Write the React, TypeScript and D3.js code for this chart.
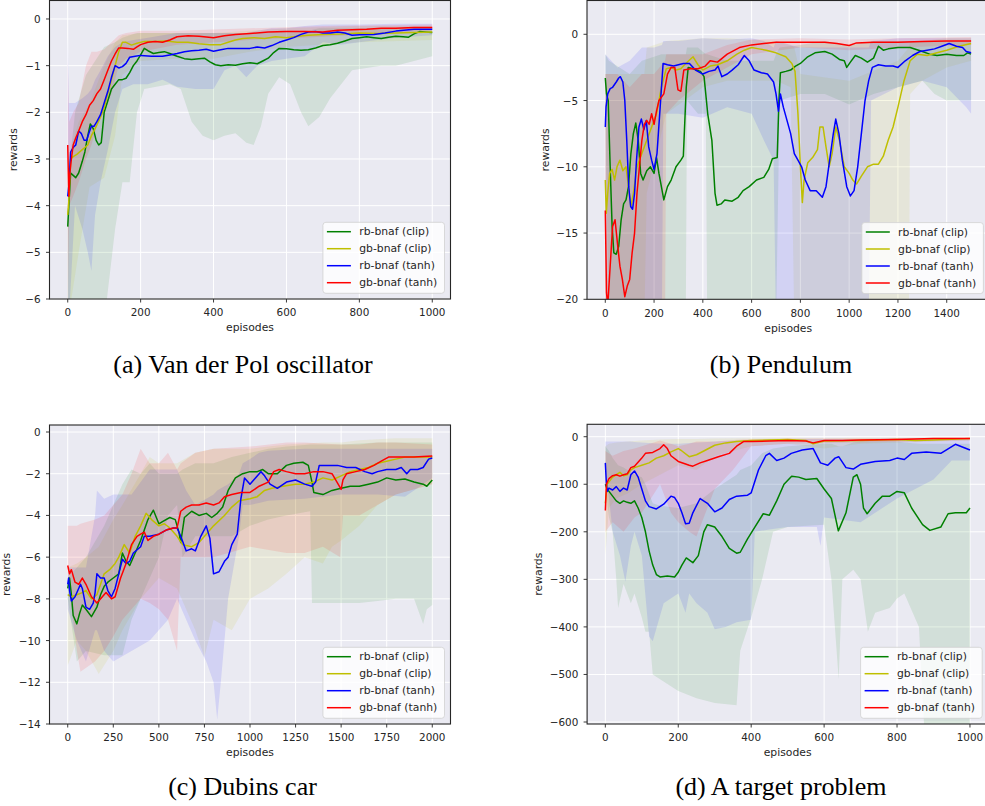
import React from "react";
import * as d3 from "d3";

type Pt = [number, number];
type Band = [number, number, number]; // episode, lower, upper

const seriesNames = ["rb-bnaf (clip)", "gb-bnaf (clip)", "rb-bnaf (tanh)", "gb-bnaf (tanh)"];
const seriesColors = ["#008000", "#bfbf00", "#0000ff", "#ff0000"];

// ---------- (a) Van der Pol oscillator ----------
const vdpRbClip: Pt[] = [[0,-4.45],[3,-4.0],[8,-3.3],[15,-3.35],[22,-3.4],[30,-3.3],[40,-3.05],[47,-2.85],[55,-2.5],[62,-2.25],[70,-2.35],[78,-2.6],[85,-2.7],[92,-2.65],[100,-2.0],[110,-1.75],[120,-1.5],[130,-1.4],[140,-1.3],[150,-1.3],[160,-1.27],[170,-1.15],[180,-1.0],[190,-0.9],[200,-0.77],[210,-0.63],[220,-0.68],[235,-0.74],[250,-0.72],[265,-0.7],[280,-0.74],[300,-0.8],[320,-0.85],[340,-0.87],[360,-0.85],[375,-0.84],[390,-0.92],[405,-0.98],[420,-1.0],[440,-0.98],[460,-0.99],[480,-0.96],[500,-0.94],[520,-0.96],[535,-0.9],[550,-0.84],[565,-0.72],[580,-0.63],[600,-0.64],[620,-0.66],[640,-0.67],[660,-0.66],[680,-0.62],[700,-0.57],[720,-0.55],[740,-0.52],[760,-0.47],[780,-0.42],[800,-0.4],[820,-0.38],[840,-0.4],[860,-0.42],[880,-0.39],[900,-0.37],[920,-0.38],[935,-0.39],[950,-0.32],[965,-0.27],[980,-0.28],[1000,-0.29]];
const vdpGbClip: Pt[] = [[0,-4.2],[3,-3.9],[8,-3.0],[15,-2.95],[25,-2.9],[40,-2.8],[55,-2.7],[65,-2.5],[75,-2.35],[90,-2.1],[100,-1.9],[110,-1.6],[120,-1.3],[130,-1.0],[140,-0.7],[150,-0.5],[160,-0.5],[175,-0.56],[190,-0.52],[210,-0.48],[240,-0.48],[270,-0.47],[300,-0.5],[330,-0.5],[360,-0.53],[390,-0.55],[420,-0.55],[440,-0.5],[460,-0.45],[480,-0.42],[510,-0.4],[540,-0.42],[570,-0.38],[600,-0.4],[630,-0.37],[660,-0.35],[700,-0.33],[750,-0.32],[800,-0.3],[850,-0.31],[900,-0.3],[950,-0.29],[1000,-0.28]];
const vdpRbTanh: Pt[] = [[0,-3.8],[4,-3.5],[8,-2.85],[15,-2.75],[22,-2.7],[30,-2.4],[37,-2.45],[45,-2.6],[52,-2.6],[58,-2.45],[65,-2.3],[72,-2.3],[80,-2.2],[90,-2.05],[100,-1.8],[110,-1.55],[120,-1.25],[130,-1.0],[140,-1.05],[150,-1.02],[160,-0.95],[170,-0.82],[185,-0.8],[200,-0.78],[230,-0.8],[260,-0.8],[280,-0.77],[300,-0.74],[320,-0.7],[340,-0.68],[360,-0.67],[380,-0.65],[400,-0.69],[420,-0.66],[440,-0.63],[470,-0.63],[500,-0.63],[520,-0.6],[540,-0.62],[560,-0.57],[580,-0.5],[600,-0.45],[620,-0.4],[640,-0.33],[660,-0.28],[680,-0.27],[700,-0.3],[720,-0.3],[740,-0.28],[760,-0.3],[780,-0.35],[800,-0.34],[840,-0.33],[870,-0.3],[900,-0.26],[950,-0.22],[1000,-0.22]];
const vdpGbTanh: Pt[] = [[0,-2.7],[3,-3.8],[6,-3.3],[10,-3.0],[15,-2.7],[22,-2.55],[30,-2.4],[40,-2.2],[50,-2.05],[60,-1.85],[70,-1.75],[80,-1.6],[90,-1.5],[100,-1.3],[110,-1.1],[120,-0.9],[130,-0.75],[140,-0.62],[150,-0.62],[165,-0.63],[180,-0.65],[190,-0.6],[200,-0.55],[220,-0.5],[240,-0.48],[260,-0.5],[280,-0.45],[300,-0.38],[330,-0.36],[360,-0.37],[400,-0.4],[430,-0.36],[460,-0.33],[500,-0.31],[550,-0.28],[600,-0.27],[650,-0.27],[700,-0.28],[740,-0.24],[780,-0.23],[820,-0.22],[860,-0.2],[900,-0.2],[950,-0.18],[1000,-0.18]];
const vdpRbClipBand: Band[] = [[0,-6.5,-3.5],[20,-6.5,-2.0],[50,-6.5,-1.2],[100,-6.5,-0.6],[130,-4.5,-0.5],[150,-3.5,-0.4],[170,-3.5,-0.35],[190,-2.0,-0.3],[210,-1.5,-0.3],[280,-1.4,-0.3],[310,-1.5,-0.3],[340,-2.2,-0.3],[370,-2.5,-0.3],[400,-2.6,-0.3],[430,-2.5,-0.3],[460,-2.45,-0.3],[490,-2.65,-0.3],[510,-2.7,-0.3],[530,-2.3,-0.3],[550,-1.6,-0.3],[580,-1.25,-0.25],[610,-1.4,-0.25],[640,-2.0,-0.25],[660,-2.3,-0.25],[690,-2.1,-0.2],[720,-1.7,-0.2],[750,-1.4,-0.2],[780,-1.1,-0.2],[820,-1.05,-0.2],[860,-1.0,-0.2],[900,-1.0,-0.2],[950,-0.9,-0.2],[1000,-0.8,-0.2]];
const vdpGbClipBand: Band[] = [[0,-6.5,-3.0],[30,-5.0,-2.2],[60,-3.6,-1.8],[100,-3.4,-1.0],[130,-2.5,-0.5],[150,-1.2,-0.35],[200,-0.9,-0.3],[300,-0.85,-0.3],[400,-0.85,-0.3],[500,-0.7,-0.25],[600,-0.6,-0.2],[800,-0.5,-0.15],[1000,-0.45,-0.15]];
const vdpRbTanhBand: Band[] = [[0,-6.5,-0.3],[3,-6.5,-1.8],[20,-4.0,-1.8],[40,-4.5,-1.7],[55,-5.0,-1.6],[65,-5.4,-1.5],[75,-4.2,-1.3],[90,-3.5,-1.1],[110,-2.8,-0.8],[130,-2.0,-0.6],[150,-1.5,-0.5],[180,-1.4,-0.45],[220,-1.4,-0.4],[260,-1.3,-0.35],[300,-1.45,-0.3],[350,-1.5,-0.3],[400,-1.5,-0.3],[430,-1.1,-0.3],[460,-1.0,-0.3],[490,-1.25,-0.3],[520,-1.0,-0.25],[560,-0.9,-0.2],[600,-0.85,-0.2],[650,-0.8,-0.15],[700,-0.5,-0.12],[750,-0.55,-0.12],[800,-0.5,-0.12],[900,-0.4,-0.1],[1000,-0.35,-0.1]];
const vdpGbTanhBand: Band[] = [[0,-6.5,-0.8],[4,-4.0,-2.2],[15,-3.8,-2.0],[30,-3.5,-1.8],[50,-3.0,-1.0],[65,-2.7,-0.7],[80,-2.3,-0.7],[100,-2.0,-0.65],[120,-1.6,-0.5],[140,-1.0,-0.35],[160,-0.85,-0.3],[200,-0.7,-0.25],[300,-0.55,-0.25],[500,-0.45,-0.2],[700,-0.38,-0.15],[1000,-0.25,-0.12]];

// ---------- (b) Pendulum ----------
const pendRbClip: Pt[] = [[0,-3.3],[5,-4.5],[12,-5.0],[20,-10.0],[28,-14.5],[35,-16.5],[45,-16.6],[55,-16.0],[65,-14.0],[75,-12.8],[85,-12.5],[95,-11.5],[105,-9.0],[115,-7.5],[125,-6.7],[135,-8.0],[145,-10.5],[155,-11.0],[170,-10.3],[185,-10.0],[200,-10.5],[210,-9.3],[220,-10.5],[230,-11.5],[240,-12.5],[255,-11.5],[270,-11.0],[290,-10.0],[310,-9.5],[320,-9.2],[332,-4.0],[340,-2.5],[360,-2.6],[390,-2.8],[405,-3.2],[420,-6.0],[437,-8.0],[450,-12.0],[458,-12.9],[475,-12.8],[490,-12.5],[520,-12.6],[545,-12.3],[565,-11.8],[590,-11.5],[620,-11.0],[650,-10.8],[670,-10.2],[685,-9.4],[705,-9.3],[712,-5.0],[718,-2.9],[740,-2.8],[760,-2.7],[780,-2.4],[800,-2.2],[830,-1.7],[860,-1.4],[900,-1.3],[930,-1.5],[960,-1.9],[980,-2.0],[990,-2.5],[1005,-2.1],[1025,-1.6],[1050,-1.8],[1075,-2.1],[1100,-1.8],[1120,-0.9],[1140,-1.2],[1160,-1.1],[1200,-1.0],[1250,-1.0],[1300,-1.3],[1330,-1.5],[1360,-1.6],[1400,-1.5],[1440,-1.6],[1470,-1.6],[1485,-1.4],[1500,-1.5]];
const pendGbClip: Pt[] = [[0,-11.0],[4,-13.5],[10,-12.0],[18,-10.5],[28,-10.2],[38,-11.0],[48,-10.0],[60,-9.5],[72,-10.3],[85,-10.0],[95,-11.5],[105,-13.0],[115,-12.0],[130,-10.0],[150,-9.0],[170,-8.0],[190,-7.0],[210,-6.0],[230,-4.0],[250,-2.6],[270,-2.5],[290,-2.7],[310,-2.6],[330,-2.2],[360,-1.7],[380,-2.3],[400,-2.7],[430,-2.4],[460,-2.3],[500,-2.0],[540,-1.5],[570,-1.2],[600,-1.0],[630,-1.1],[660,-1.2],[700,-1.4],[740,-1.7],[765,-2.2],[778,-2.8],[790,-6.0],[800,-10.0],[808,-12.7],[815,-11.0],[830,-9.7],[850,-9.3],[870,-8.7],[880,-7.0],[893,-7.0],[905,-8.5],[918,-10.0],[930,-9.0],[945,-7.0],[960,-8.0],[980,-10.0],[1000,-10.5],[1015,-11.0],[1030,-11.3],[1050,-10.7],[1075,-10.0],[1100,-9.8],[1120,-9.8],[1140,-9.2],[1160,-8.0],[1180,-7.0],[1200,-5.5],[1225,-3.5],[1250,-2.0],[1280,-1.5],[1320,-1.6],[1360,-1.4],[1400,-1.2],[1450,-0.9],[1500,-0.7]];
const pendRbTanh: Pt[] = [[0,-7.0],[3,-5.5],[10,-4.5],[20,-4.1],[30,-4.0],[45,-3.6],[55,-3.3],[62,-3.2],[72,-3.6],[80,-5.0],[88,-8.0],[96,-11.5],[104,-13.0],[112,-13.2],[120,-12.0],[128,-9.5],[138,-7.0],[148,-6.4],[158,-7.2],[168,-6.5],[178,-8.5],[190,-9.5],[200,-10.2],[212,-9.0],[225,-5.5],[237,-2.2],[255,-2.3],[280,-2.4],[300,-2.3],[320,-2.2],[345,-2.2],[370,-2.7],[400,-3.0],[425,-2.8],[450,-2.7],[462,-2.4],[478,-3.2],[500,-3.0],[520,-2.7],[545,-2.3],[570,-1.6],[590,-2.0],[610,-2.7],[640,-2.9],[665,-3.0],[690,-3.6],[700,-4.5],[710,-5.8],[718,-4.5],[730,-5.5],[745,-6.5],[760,-7.5],[775,-9.0],[790,-9.5],[805,-10.0],[820,-11.0],[840,-11.8],[865,-11.8],[890,-12.3],[905,-11.5],[920,-9.5],[935,-7.5],[945,-6.4],[958,-7.5],[972,-9.5],[990,-11.5],[1005,-12.2],[1020,-11.8],[1035,-10.0],[1050,-7.5],[1065,-5.0],[1080,-3.5],[1095,-2.5],[1120,-2.3],[1150,-2.4],[1180,-2.4],[1200,-2.5],[1230,-2.0],[1260,-1.6],[1290,-1.3],[1320,-1.2],[1350,-1.1],[1380,-0.9],[1410,-0.7],[1440,-0.9],[1465,-1.0],[1480,-1.3],[1500,-1.4]];
const pendGbTanh: Pt[] = [[0,-13.3],[5,-19.5],[10,-20.5],[20,-17.5],[30,-14.5],[40,-14.0],[50,-15.8],[60,-17.5],[70,-18.5],[80,-19.8],[90,-19.0],[100,-18.5],[110,-16.5],[120,-15.0],[130,-12.0],[140,-10.0],[150,-8.0],[160,-6.8],[170,-6.5],[180,-6.8],[190,-6.0],[200,-6.8],[210,-5.8],[220,-5.0],[240,-4.5],[255,-3.0],[270,-2.5],[285,-2.5],[298,-4.2],[310,-4.3],[322,-2.7],[350,-2.6],[380,-2.6],[410,-2.4],[430,-2.0],[460,-2.1],[500,-1.5],[550,-1.0],[600,-0.8],[650,-0.7],[700,-0.6],[800,-0.6],[900,-0.6],[950,-0.7],[1000,-0.85],[1030,-0.65],[1100,-0.6],[1200,-0.6],[1300,-0.55],[1400,-0.5],[1500,-0.5]];
const pendRbClipBand: Band[] = [[0,-6,-1.5],[15,-22,-2],[100,-22,-3],[150,-22,-2],[230,-22,-1.5],[330,-22,-1.5],[335,-5,-1],[380,-6,-1],[412,-6,-1.5],[418,-22,-1.5],[500,-22,-2],[600,-22,-2],[690,-22,-2],[700,-22,-1.5],[715,-5,-1],[800,-4.5,-0.8],[900,-4.5,-0.5],[1000,-5.3,-0.8],[1100,-4.5,-0.5],[1200,-4,-0.5],[1300,-3.5,-0.5],[1350,-4.5,-0.5],[1400,-5,-0.5],[1500,-5,-0.5]];
const pendGbClipBand: Band[] = [[0,-22,-3],[100,-22,-3],[160,-22,-3],[170,-12,-1],[250,-6,-0.5],[400,-4,-0.3],[500,-3.5,-0.3],[700,-3.5,-0.5],[760,-4,-0.8],[775,-22,-1],[800,-22,-3],[1000,-22,-3.5],[1200,-22,-2],[1245,-22,-1],[1250,-4.5,-0.5],[1300,-3.5,-0.5],[1400,-2.5,-0.3],[1500,-2,-0.3]];
const pendRbTanhBand: Band[] = [[0,-22,-1.5],[50,-22,-2.5],[100,-22,-2],[150,-22,-1],[200,-22,-1],[232,-22,-0.8],[238,-6,-0.5],[300,-6,-0.5],[400,-6.3,-0.3],[500,-5.5,-0.4],[600,-6,-0.3],[650,-8,-0.5],[690,-9.5,-1],[700,-22,-0.5],[800,-22,-1],[900,-22,-1],[1000,-22,-1],[1080,-22,-1],[1090,-5,-0.5],[1200,-4,-0.3],[1300,-3.5,-0.3],[1400,-4,-0.3],[1480,-5.5,-0.3],[1500,-6,-0.3]];
const pendGbTanhBand: Band[] = [[0,-22,-3],[50,-22,-3],[100,-22,-4],[150,-22,-3],[200,-22,-3],[245,-22,-2],[250,-6,-1.5],[300,-5,-1.5],[400,-3.5,-1.5],[500,-2.5,-0.8],[600,-1.5,-0.4],[800,-1,-0.3],[1000,-1.2,-0.4],[1200,-1,-0.3],[1500,-0.8,-0.2]];

// ---------- (c) Dubins car ----------
const dubRbClip: Pt[] = [[0,-7.5],[10,-7.0],[20,-7.8],[30,-8.8],[50,-9.2],[65,-8.7],[80,-8.3],[100,-8.5],[130,-8.85],[160,-8.4],[180,-7.8],[200,-7.4],[220,-7.2],[250,-7.0],[280,-6.8],[300,-5.8],[320,-6.2],[340,-6.4],[370,-5.8],[400,-5.2],[440,-4.2],[470,-3.75],[500,-4.4],[520,-4.3],[560,-4.1],[590,-4.2],[610,-4.8],[620,-5.3],[640,-4.1],[680,-3.8],[720,-4.0],[760,-3.9],[790,-4.1],[820,-3.9],[850,-3.6],[880,-2.8],[920,-2.2],[960,-2.0],[1000,-1.9],[1040,-1.9],[1070,-1.8],[1100,-2.0],[1150,-2.0],[1200,-1.6],[1240,-1.5],[1290,-1.45],[1320,-1.6],[1340,-2.4],[1350,-2.9],[1400,-3.0],[1450,-2.8],[1500,-2.7],[1550,-2.6],[1600,-2.6],[1650,-2.5],[1700,-2.4],[1750,-2.2],[1800,-2.3],[1850,-2.25],[1900,-2.4],[1950,-2.5],[1970,-2.6],[2000,-2.3]];
const dubGbClip: Pt[] = [[0,-7.8],[20,-7.9],[50,-7.8],[80,-7.7],[100,-7.6],[130,-8.0],[160,-7.8],[180,-7.3],[200,-6.8],[230,-6.6],[260,-6.3],[280,-6.0],[310,-5.4],[340,-5.8],[370,-5.0],[400,-4.5],[430,-3.9],[460,-4.2],[500,-4.5],[530,-4.4],[560,-4.6],[600,-5.0],[630,-5.4],[680,-5.5],[720,-5.3],[760,-4.9],[800,-4.5],[860,-4.0],[900,-3.6],[940,-3.3],[1000,-3.2],[1040,-3.1],[1080,-2.8],[1120,-2.7],[1180,-2.6],[1250,-2.5],[1300,-2.5],[1350,-2.4],[1400,-2.2],[1450,-2.3],[1500,-2.1],[1550,-1.9],[1600,-1.8],[1650,-1.7],[1700,-1.5],[1750,-1.4],[1800,-1.3],[1850,-1.2],[1900,-1.2],[2000,-1.2]];
const dubRbTanh: Pt[] = [[0,-7.3],[5,-7.0],[10,-7.6],[20,-8.1],[40,-7.9],[60,-7.5],[70,-7.3],[80,-7.5],[100,-8.4],[120,-8.5],[140,-8.2],[150,-7.7],[160,-6.8],[180,-7.0],[200,-7.0],[220,-7.6],[240,-7.9],[260,-7.5],[280,-6.8],[300,-6.1],[320,-6.3],[340,-6.2],[360,-5.8],[400,-5.5],[420,-5.0],[450,-5.0],[500,-4.9],[540,-4.7],[580,-4.6],[600,-4.6],[620,-5.0],[650,-5.7],[680,-5.6],[700,-5.7],[730,-5.0],[760,-4.5],[780,-5.1],[800,-6.8],[830,-6.7],[860,-6.2],[880,-6.0],[900,-5.4],[930,-4.9],[950,-3.2],[970,-2.2],[1000,-2.5],[1030,-2.2],[1060,-1.9],[1080,-2.1],[1110,-2.5],[1150,-2.7],[1200,-2.4],[1250,-2.3],[1300,-2.5],[1340,-2.6],[1360,-2.4],[1380,-1.6],[1420,-1.6],[1480,-1.6],[1530,-1.7],[1580,-1.7],[1630,-1.9],[1670,-2.0],[1700,-1.9],[1750,-1.8],[1800,-1.8],[1830,-1.7],[1860,-2.0],[1880,-1.8],[1920,-1.8],[1950,-1.7],[1980,-1.3],[2000,-1.25]];
const dubGbTanh: Pt[] = [[0,-6.4],[10,-6.8],[20,-6.6],[40,-7.2],[60,-7.3],[80,-7.0],[100,-7.3],[130,-7.9],[160,-8.2],[190,-7.9],[210,-7.7],[240,-8.0],[260,-7.9],[290,-7.0],[320,-6.3],[350,-5.4],[380,-5.0],[400,-4.9],[420,-4.8],[440,-5.2],[470,-5.0],[500,-4.9],[540,-4.7],[580,-4.6],[600,-4.6],[620,-3.8],[650,-3.6],[680,-3.5],[720,-3.5],[760,-3.4],[800,-3.5],[830,-3.4],[860,-3.1],[900,-3.0],[950,-2.9],[1000,-2.9],[1050,-2.6],[1100,-2.4],[1130,-1.9],[1160,-1.8],[1200,-1.9],[1250,-2.0],[1300,-2.0],[1350,-1.9],[1400,-1.9],[1450,-2.0],[1490,-2.6],[1500,-2.75],[1510,-2.3],[1530,-2.0],[1580,-1.9],[1630,-1.8],[1680,-1.6],[1720,-1.4],[1760,-1.2],[1800,-1.2],[1850,-1.2],[1900,-1.2],[2000,-1.15]];
const dubRbClipBand: Band[] = [[0,-8,-7],[50,-11,-6.5],[100,-10.5,-6],[200,-10.7,-4.5],[250,-10.7,-3.5],[300,-10.7,-2.5],[350,-9,-1.8],[400,-8,-2],[450,-7,-1.5],[500,-6,-2],[550,-4,-2],[600,-3.5,-2],[630,-6,-1.8],[700,-5,-1.5],[800,-5,-1.5],[900,-5,-1.2],[1000,-4.5,-1.0],[1100,-4.2,-0.8],[1200,-4,-0.7],[1330,-3.8,-0.6],[1340,-8.2,-0.6],[1500,-8.2,-0.6],[1600,-8.2,-0.55],[1700,-8.1,-0.5],[1800,-8,-0.5],[1900,-8,-0.5],[1950,-9.2,-0.5],[1970,-8.5,-0.5],[2000,-8.3,-0.5]];
const dubGbClipBand: Band[] = [[0,-11.2,-6.5],[50,-10,-6.3],[100,-10.5,-6],[170,-11.6,-5.5],[250,-10.5,-4.2],[300,-9.5,-3.5],[400,-8,-2],[450,-7.5,-1.2],[500,-7,-1.5],[600,-7.5,-1.5],[700,-9.5,-1.0],[750,-10.8,-0.9],[800,-9,-0.8],[900,-9.5,-0.8],[1000,-8,-0.8],[1100,-7.5,-0.7],[1200,-6.8,-0.6],[1300,-6,-0.55],[1400,-6.3,-0.5],[1450,-5.5,-0.5],[1500,-5.2,-0.5],[1600,-4.5,-0.4],[1700,-3.5,-0.35],[1800,-3.0,-0.3],[2000,-2.5,-0.3]];
const dubRbTanhBand: Band[] = [[0,-8.5,-6.5],[50,-10,-6.5],[100,-11,-6.5],[150,-9.5,-4],[160,-9.5,-2.8],[200,-10.5,-3.2],[250,-11,-3],[350,-10.5,-3],[450,-10,-1.8],[550,-9,-1.8],[600,-8,-1.8],[650,-9,-2.8],[700,-10,-3.5],[760,-11,-3.2],[800,-12,-3.0],[820,-13.8,-2.8],[840,-12,-2.7],[880,-8,-2.5],[940,-5,-2],[960,-3.5,-1.5],[1000,-3.5,-1.3],[1050,-3.4,-1.0],[1100,-3.3,-0.9],[1300,-3.2,-0.8],[1500,-3.0,-0.8],[1700,-3.0,-0.8],[1850,-3.1,-0.8],[1900,-2.8,-0.8],[2000,-2.2,-0.8]];
const dubGbTanhBand: Band[] = [[0,-7,-4.5],[50,-10.5,-4.5],[70,-11.5,-4.4],[150,-11,-4.2],[200,-10.5,-4.0],[250,-9.8,-3.5],[300,-9,-3],[350,-8.5,-2],[400,-8,-0.8],[450,-8.2,-1.5],[500,-8.5,-1.5],[550,-9,-1.0],[600,-10.5,-1.8],[620,-6,-1.5],[700,-6,-1.0],[800,-6,-0.8],[1000,-5.5,-0.7],[1200,-5.8,-0.5],[1300,-5.8,-0.5],[1400,-5.5,-0.55],[1495,-6,-0.6],[1510,-4,-0.6],[1600,-4,-0.6],[1700,-3.5,-0.5],[1800,-3.0,-0.5],[2000,-2.5,-0.6]];

// ---------- (d) A target problem ----------
const tgtRbClip: Pt[] = [[0,-100],[5,-110],[10,-115],[20,-125],[30,-135],[40,-140],[50,-135],[60,-138],[70,-140],[80,-135],[90,-150],[100,-170],[110,-200],[120,-240],[130,-270],[140,-290],[150,-295],[170,-293],[190,-295],[200,-285],[210,-270],[222,-255],[240,-265],[255,-250],[270,-200],[280,-185],[300,-190],[320,-210],[340,-235],[360,-245],[370,-243],[390,-215],[410,-190],[433,-162],[450,-165],[470,-135],[490,-100],[511,-83],[530,-85],[550,-90],[580,-88],[600,-110],[620,-130],[639,-198],[660,-160],[680,-85],[690,-80],[700,-100],[708,-150],[718,-162],[740,-140],[760,-125],[780,-125],[800,-115],[820,-118],[840,-150],[870,-185],[890,-197],[920,-190],[940,-162],[960,-160],[990,-160],[1000,-150]];
const tgtGbClip: Pt[] = [[0,-140],[5,-100],[10,-95],[20,-85],[30,-80],[40,-75],[50,-82],[60,-80],[70,-70],[80,-65],[100,-60],[120,-55],[140,-45],[160,-40],[180,-32],[200,-25],[210,-30],[230,-42],[250,-38],[270,-30],[300,-18],[330,-13],[360,-10],[400,-8],[450,-7],[500,-6],[550,-8],[570,-15],[600,-9],[700,-8],[800,-6],[850,-8],[900,-7],[1000,-4]];
const tgtRbTanh: Pt[] = [[0,-55],[3,-100],[5,-115],[10,-108],[20,-112],[30,-105],[40,-115],[50,-108],[60,-112],[70,-80],[80,-72],[90,-85],[100,-110],[110,-135],[120,-147],[140,-152],[160,-142],[180,-125],[190,-128],[200,-140],[210,-160],[220,-183],[230,-182],[240,-160],[260,-130],[280,-140],[300,-158],[320,-150],[340,-132],[360,-125],[390,-123],[400,-118],[420,-70],[440,-40],[450,-35],[470,-50],[490,-45],[510,-35],[540,-28],[570,-25],[590,-55],[610,-60],[630,-45],[640,-42],[660,-65],[680,-68],[700,-58],[740,-52],[780,-50],[800,-45],[820,-48],[840,-35],[880,-32],[920,-35],[960,-16],[1000,-28]];
const tgtGbTanh: Pt[] = [[0,-155],[3,-100],[10,-88],[20,-82],[30,-80],[40,-83],[50,-80],[60,-78],[70,-65],[80,-62],[100,-45],[110,-35],[130,-33],[150,-25],[160,-17],[170,-25],[180,-40],[200,-52],[230,-60],[240,-62],[260,-55],[280,-50],[310,-42],[340,-35],[360,-20],[380,-10],[400,-10],[450,-9],[500,-8],[550,-9],[570,-13],[600,-8],[650,-8],[700,-7],[800,-6],[900,-4],[1000,-4]];
const tgtRbClipBand: Band[] = [[0,-100,-20],[10,-170,-30],[20,-200,-45],[30,-300,-55],[35,-360,-60],[50,-310,-65],[70,-350,-75],[80,-330,-80],[100,-380,-85],[110,-410,-100],[120,-410,-120],[130,-500,-140],[150,-510,-145],[200,-535,-150],[250,-550,-140],[300,-560,-110],[360,-565,-80],[370,-450,-70],[400,-380,-60],[430,-300,-35],[460,-200,-25],[500,-190,-20],[600,-185,-15],[620,-300,-15],[640,-510,-20],[650,-300,-20],[680,-280,-12],[700,-300,-10],[720,-410,-10],[740,-370,-10],[780,-360,-10],[800,-340,-10],[820,-330,-12],[860,-400,-15],[875,-620,-15],[1000,-620,-15]];
const tgtGbClipBand: Band[] = [[0,-250,-20],[10,-150,-15],[30,-130,-12],[60,-120,-10],[100,-100,-8],[150,-80,-6],[200,-60,-5],[250,-70,-5],[300,-40,-4],[400,-20,-3],[500,-15,-3],[600,-25,-3],[700,-15,-2],[1000,-8,-2]];
const tgtRbTanhBand: Band[] = [[0,-60,-10],[20,-200,-10],[40,-250,-10],[55,-305,-10],[70,-230,-10],[80,-200,-11],[100,-250,-12],[120,-420,-13],[130,-430,-14],[160,-350,-15],[200,-330,-15],[220,-370,-14],[230,-330,-13],[250,-350,-12],[280,-370,-11],[300,-405,-10],[330,-400,-9],[360,-390,-8],[400,-385,-8],[410,-200,-7],[450,-195,-6],[500,-190,-5],[580,-190,-5],[590,-230,-5],[600,-170,-5],[700,-180,-5],[800,-130,-4],[900,-90,-4],[950,-50,-3],[1000,-50,-3]];
const tgtGbTanhBand: Band[] = [[0,-200,-30],[20,-180,-40],[50,-200,-30],[80,-170,-25],[100,-160,-20],[150,-100,-8],[180,-160,-15],[200,-180,-20],[230,-200,-15],[250,-210,-10],[280,-150,-10],[300,-110,-10],[350,-70,-7],[400,-20,-5],[500,-15,-4],[1000,-8,-2]];

// tick values
const vdpXTicks = [0, 200, 400, 600, 800, 1000];
const vdpYTicks = [0, -1, -2, -3, -4, -5, -6];
const pendXTicks = [0, 200, 400, 600, 800, 1000, 1200, 1400];
const pendYTicks = [0, -5, -10, -15, -20];
const dubXTicks = [0, 250, 500, 750, 1000, 1250, 1500, 1750, 2000];
const dubYTicks = [0, -2, -4, -6, -8, -10, -12, -14];
const tgtXTicks = [0, 200, 400, 600, 800, 1000];
const tgtYTicks = [0, -100, -200, -300, -400, -500, -600];

interface PanelSpec {
  id: string;
  left: number; right: number; top: number; bottom: number;
  xDomain: [number, number];
  yDomain: [number, number];
  xTicks: number[]; yTicks: number[];
  lines: Pt[][]; bands: Band[][];
  caption: string; capX: number; capY: number;
  yLabelX: number;
}

const panels: PanelSpec[] = [
  {
    id: "a", left: 49.5, right: 450.5, top: 0.5, bottom: 299,
    xDomain: [-50, 1050], yDomain: [-6, 0.396],
    xTicks: vdpXTicks, yTicks: vdpYTicks,
    lines: [vdpRbClip, vdpGbClip, vdpRbTanh, vdpGbTanh],
    bands: [vdpRbClipBand, vdpGbClipBand, vdpRbTanhBand, vdpGbTanhBand],
    caption: "(a) Van der Pol oscillator", capX: 243, capY: 372.5, yLabelX: 13.3,
  },
  {
    id: "b", left: 587, right: 989.4, top: 0.5, bottom: 299.3,
    xDomain: [-75, 1575], yDomain: [-20, 2.55],
    xTicks: pendXTicks, yTicks: pendYTicks,
    lines: [pendRbClip, pendGbClip, pendRbTanh, pendGbTanh],
    bands: [pendRbClipBand, pendGbClipBand, pendRbTanhBand, pendGbTanhBand],
    caption: "(b) Pendulum", capX: 781, capY: 372.5, yLabelX: 545.3,
  },
  {
    id: "c", left: 49.5, right: 450.5, top: 425, bottom: 724,
    xDomain: [-100, 2100], yDomain: [-14, 0.336],
    xTicks: dubXTicks, yTicks: dubYTicks,
    lines: [dubRbClip, dubGbClip, dubRbTanh, dubGbTanh],
    bands: [dubRbClipBand, dubGbClipBand, dubRbTanhBand, dubGbTanhBand],
    caption: "(c) Dubins car", capX: 242.5, capY: 795, yLabelX: 6.9,
  },
  {
    id: "d", left: 587.1, right: 988.2, top: 424.3, bottom: 724,
    xDomain: [-50, 1050], yDomain: [-604.2, 26.1],
    xTicks: tgtXTicks, yTicks: tgtYTicks,
    lines: [tgtRbClip, tgtGbClip, tgtRbTanh, tgtGbTanh],
    bands: [tgtRbClipBand, tgtGbClipBand, tgtRbTanhBand, tgtGbTanhBand],
    caption: "(d) A target problem", capX: 781, capY: 794.5, yLabelX: 538.4,
  },
];

const FONT = "'DejaVu Sans', sans-serif";
const fmt = (v: number) => (v < 0 ? "\u2212" + Math.abs(v) : String(v));

const Panel = ({ p }: { p: PanelSpec }) => {
  const x = d3.scaleLinear().domain(p.xDomain).range([p.left, p.right]);
  const y = d3.scaleLinear().domain(p.yDomain).range([p.bottom, p.top]);
  const line = d3.line<Pt>().x((d) => x(d[0])).y((d) => y(d[1]));
  const area = d3
    .area<Band>()
    .x((d) => x(d[0]))
    .y0((d) => y(d[1]))
    .y1((d) => y(d[2]));

  const lgW = 121.6;
  const lgH = 71;
  const lgX = p.right - 6 - lgW;
  const lgY = p.bottom - 5.7 - lgH;

  return (
    <g>
      <defs>
        <clipPath id={"clip-" + p.id}>
          <rect x={p.left} y={p.top} width={p.right - p.left} height={p.bottom - p.top} />
        </clipPath>
      </defs>
      <rect x={p.left} y={p.top} width={p.right - p.left} height={p.bottom - p.top} fill="#eaeaf2" />
      {/* grid */}
      {p.xTicks.map((t) => (
        <line key={"gx" + t} x1={x(t)} x2={x(t)} y1={p.top} y2={p.bottom} stroke="#fff" strokeWidth={1} />
      ))}
      {p.yTicks.map((t) => (
        <line key={"gy" + t} x1={p.left} x2={p.right} y1={y(t)} y2={y(t)} stroke="#fff" strokeWidth={1} />
      ))}
      <g clipPath={`url(#clip-${p.id})`}>
        {p.bands.map((b, i) => (
          <path key={"b" + i} d={area(b) || ""} fill={seriesColors[i]} fillOpacity={0.1} stroke="none" />
        ))}
        {p.lines.map((l, i) => (
          <path key={"l" + i} d={line(l) || ""} fill="none" stroke={seriesColors[i]} strokeWidth={1.5} strokeLinejoin="round" />
        ))}
      </g>
      {/* spines */}
      <rect x={p.left} y={p.top} width={p.right - p.left} height={p.bottom - p.top} fill="none" stroke="#262626" strokeWidth={1.1} />
      {/* x ticks */}
      {p.xTicks.map((t) => (
        <g key={"tx" + t}>
          <line x1={x(t)} x2={x(t)} y1={p.bottom} y2={p.bottom + 3.5} stroke="#262626" strokeWidth={0.9} />
          <text x={x(t)} y={p.bottom + 13.3} textAnchor="middle" dominantBaseline="central" fontFamily={FONT} fontSize={10.4} fill="#262626">
            {fmt(t)}
          </text>
        </g>
      ))}
      {/* y ticks */}
      {p.yTicks.map((t) => (
        <g key={"ty" + t}>
          <line x1={p.left - 3.5} x2={p.left} y1={y(t)} y2={y(t)} stroke="#262626" strokeWidth={0.9} />
          <text x={p.left - 8.8} y={y(t)} textAnchor="end" dominantBaseline="central" fontFamily={FONT} fontSize={10.4} fill="#262626">
            {fmt(t)}
          </text>
        </g>
      ))}
      <text x={(x(p.xDomain[0]) + x(p.xDomain[1])) / 2} y={p.bottom + 28.7} textAnchor="middle" dominantBaseline="central" fontFamily={FONT} fontSize={10.8} fill="#262626">
        episodes
      </text>
      <text transform={`translate(${p.yLabelX},${(p.top + p.bottom) / 2}) rotate(-90)`} textAnchor="middle" dominantBaseline="central" fontFamily={FONT} fontSize={10.8} fill="#262626">
        rewards
      </text>
      {/* legend */}
      <rect x={lgX} y={lgY} width={lgW} height={lgH} rx={3} fill="#fff" fillOpacity={0.8} stroke="#d0d0d0" strokeWidth={0.8} />
      {seriesNames.map((name, i) => {
        const ry = lgY + 9.4 + i * 17;
        return (
          <g key={name}>
            <line x1={lgX + 4} x2={lgX + 28} y1={ry} y2={ry} stroke={seriesColors[i]} strokeWidth={1.5} />
            <text x={lgX + 36.3} y={ry} dominantBaseline="central" fontFamily={FONT} fontSize={10.8} fill="#262626">
              {name}
            </text>
          </g>
        );
      })}
      <text x={p.capX} y={p.capY} textAnchor="middle" fontFamily="'Liberation Serif', 'Times New Roman', serif" fontSize={26} fill="#000">
        {p.caption}
      </text>
    </g>
  );
};

export default function App() {
  return (
    <svg
      width={985}
      height={806}
      viewBox="0 0 985 806"
      style={{ position: "absolute", left: 0, top: 0, background: "#fff" }}
    >
      {panels.map((p) => (
        <Panel key={p.id} p={p} />
      ))}
    </svg>
  );
}
